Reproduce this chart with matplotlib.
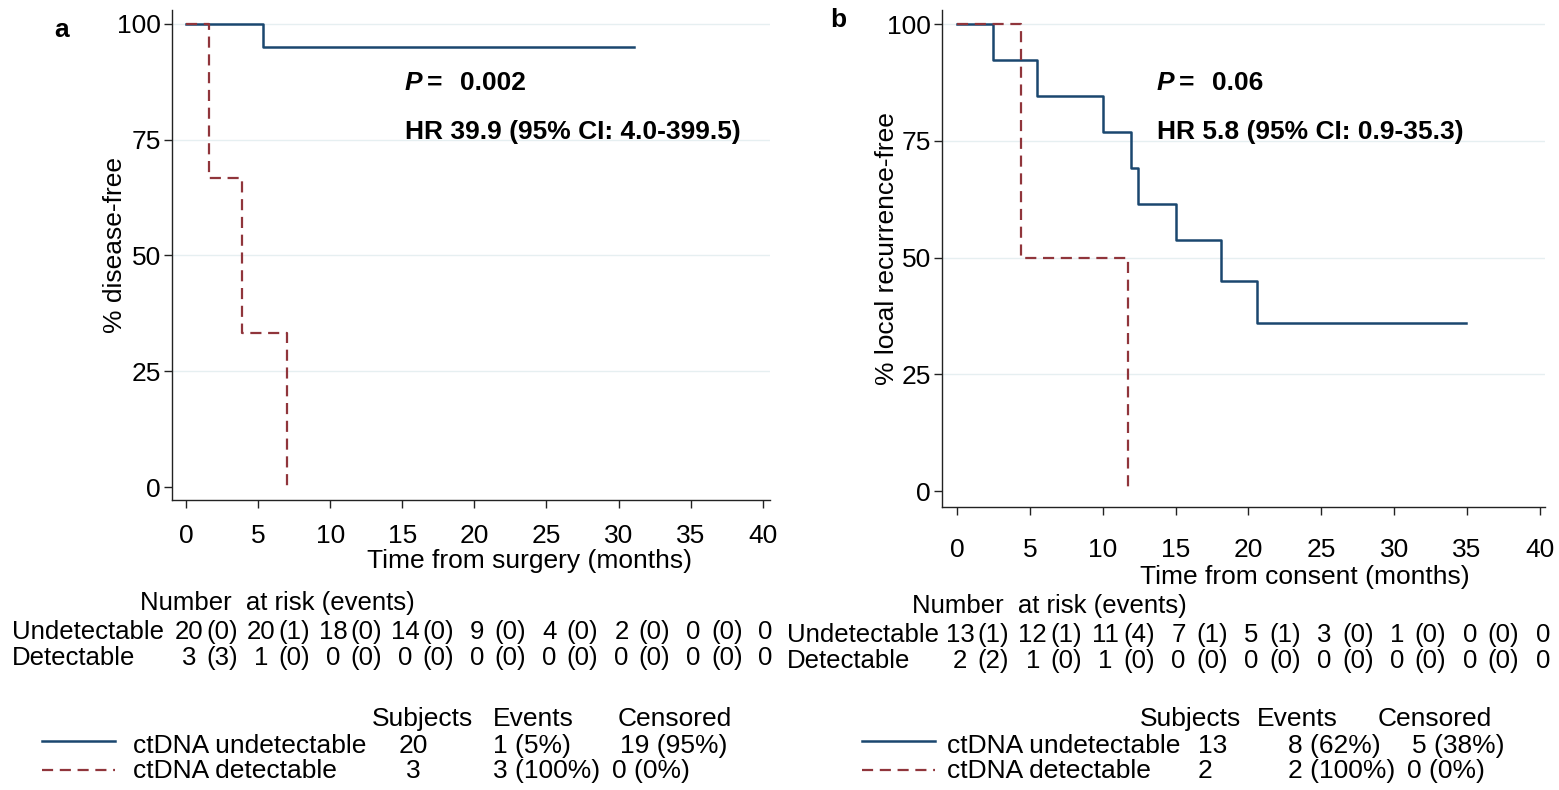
import numpy as np
import matplotlib
matplotlib.use("Agg")
import matplotlib.pyplot as plt
from matplotlib.lines import Line2D
from matplotlib import transforms

plt.rcParams['font.family'] = ['Liberation Sans', 'DejaVu Sans']
plt.rcParams['font.size'] = 19

W, H = 1559, 790

# Kaplan-Meier step data (months, % event-free)
a_undet_t = [0, 5.35, 31.1]
a_undet_s = [100, 95.0, 95.0]
a_det_t = [0, 1.6, 3.85, 7.0]
a_det_s = [100, 66.7, 33.3, 0]

b_undet_t = [0, 2.5, 5.5, 10.0, 11.95, 12.45, 15.0, 18.1, 20.6, 34.9]
b_undet_s = [100, 92.3, 84.6, 76.9, 69.2, 61.5, 53.8, 44.9, 35.9, 35.9]
b_det_t = [0, 4.4, 11.75]
b_det_s = [100, 50, 0]

# number at risk table
risk_times = [0, 5, 10, 15, 20, 25, 30, 35, 40]
a_risk_undet = [20, 20, 18, 14, 9, 4, 2, 0, 0]
a_ev_undet = [0, 1, 0, 0, 0, 0, 0, 0]
a_risk_det = [3, 1, 0, 0, 0, 0, 0, 0, 0]
a_ev_det = [3, 0, 0, 0, 0, 0, 0, 0]

b_risk_undet = [13, 12, 11, 7, 5, 3, 1, 0, 0]
b_ev_undet = [1, 1, 4, 1, 1, 0, 0, 0]
b_risk_det = [2, 1, 1, 0, 0, 0, 0, 0, 0]
b_ev_det = [2, 0, 0, 0, 0, 0, 0, 0]

# summary table
groups = ['ctDNA undetectable', 'ctDNA detectable']
a_subjects = ['20', '3']
a_events = ['1 (5%)', '3 (100%)']
a_censored = ['19 (95%)', '0 (0%)']
b_subjects = ['13', '2']
b_events = ['8 (62%)', '2 (100%)']
b_censored = ['5 (38%)', '0 (0%)']

BLUE = '#1A476F'
RED = '#90353B'
GRID = '#E6EFF1'
TABLE_FS = 18.5


def fx(px):
    return px / W


def fy(py):
    return 1 - py / H


fig = plt.figure(figsize=(W / 100, H / 100), dpi=100)
ax_a = fig.add_axes([fx(172), fy(500), fx(770) - fx(172), fy(10) - fy(500)])
ax_b = fig.add_axes([fx(942), fy(507), fx(1545) - fx(942), fy(10) - fy(507)])


def style_axes(ax, xlim, ylim, xpad):
    ax.set_xlim(*xlim)
    ax.set_ylim(*ylim)
    for s in ['top', 'right']:
        ax.spines[s].set_visible(False)
    for s in ['left', 'bottom']:
        ax.spines[s].set_linewidth(1.0)
        ax.spines[s].set_color('#222222')
    ax.set_xticks(risk_times)
    ax.set_yticks([0, 25, 50, 75, 100])
    ax.tick_params(axis='both', direction='out', length=6, width=1, color='#222222')
    ax.tick_params(axis='x', pad=xpad)
    ax.tick_params(axis='y', pad=2)
    for yv in [25, 50, 75, 100]:
        ax.axhline(yv, color=GRID, lw=1.0, zorder=0)


style_axes(ax_a, (-0.97, 40.5), (-2.8, 103), 11)
style_axes(ax_b, (-1.03, 40.35), (-3.4, 103), 16)

# curves
for ax, ut, us, dt, ds in [(ax_a, a_undet_t, a_undet_s, a_det_t, a_det_s),
                           (ax_b, b_undet_t, b_undet_s, b_det_t, b_det_s)]:
    ax.step(ut, us, where='post', color=BLUE, lw=1.8, zorder=3)
    ax.step(dt, ds, where='post', color=RED, lw=1.6, dashes=(5, 3), zorder=4)

ax_a.set_xlabel('Time from surgery (months)')
ax_a.xaxis.set_label_coords(0.597, -0.099)
ax_a.set_ylabel('% disease-free')
ax_a.yaxis.set_label_coords(-0.075, 0.52)

ax_b.set_xlabel('Time from consent (months)')
ax_b.xaxis.set_label_coords(0.602, -0.116)
ax_b.set_ylabel('% local recurrence-free')
ax_b.yaxis.set_label_coords(-0.072, 0.52)

# panel letters
fig.text(fx(62), fy(30), 'a', fontweight='bold', ha='center', va='center')
fig.text(fx(838), fy(20), 'b', fontweight='bold', ha='center', va='center')

# P value and hazard ratio
for x0, pval, hr in [(405, '0.002', 'HR 39.9 (95% CI: 4.0-399.5)'),
                     (1157, '0.06', 'HR 5.8 (95% CI: 0.9-35.3)')]:
    fig.text(fx(x0), fy(83), 'P', fontweight='bold', fontstyle='italic', va='center')
    fig.text(fx(x0 + 22), fy(83), '=', fontweight='bold', va='center')
    fig.text(fx(x0 + 55), fy(83), pval, fontweight='bold', va='center')
    fig.text(fx(x0), fy(132), hr, fontweight='bold', va='center')


def risk_table(ax, title_x, label_x, y0, undet, ev_undet, det, ev_det):
    tr = transforms.blended_transform_factory(ax.transData, fig.transFigure)
    fig.text(fx(title_x), fy(y0), 'Number  at risk (events)', va='center', fontsize=TABLE_FS)
    rows = [('Undetectable', undet, ev_undet, y0 + 29),
            ('Detectable', det, ev_det, y0 + 55)]
    for name, nums, evs, yy in rows:
        fig.text(fx(label_x), fy(yy), name, va='center', fontsize=TABLE_FS)
        for t, n in zip(risk_times, nums):
            ax.text(t + 0.2, fy(yy), str(n), transform=tr, ha='center', va='center',
                    fontsize=TABLE_FS)
        for i, e in enumerate(evs):
            tm = (risk_times[i] + risk_times[i + 1]) / 2
            ax.text(tm, fy(yy), '(%d)' % e, transform=tr, ha='center', va='center',
                    fontsize=TABLE_FS)


risk_table(ax_a, 140, 12, 603, a_risk_undet, a_ev_undet, a_risk_det, a_ev_det)
risk_table(ax_b, 912, 787, 606, b_risk_undet, b_ev_undet, b_risk_det, b_ev_det)


def summary(line_x, name_x, subj_x, subj_ha, ev_x, cens_x, hdr_x, subjects, events, censored):
    fig.text(fx(hdr_x[0]), fy(719), 'Subjects', va='center')
    fig.text(fx(hdr_x[1]), fy(719), 'Events', va='center')
    fig.text(fx(hdr_x[2]), fy(719), 'Censored', va='center')
    styles = [dict(color=BLUE, lw=1.8), dict(color=RED, lw=1.6, dashes=(5, 3))]
    line_y = [741, 770]
    text_y = [746, 771]
    for i in range(2):
        fig.add_artist(Line2D([fx(line_x), fx(line_x + 73)], [fy(line_y[i])] * 2,
                              transform=fig.transFigure, **styles[i]))
        fig.text(fx(name_x), fy(text_y[i]), groups[i], va='center')
        fig.text(fx(subj_x), fy(text_y[i]), subjects[i], va='center', ha=subj_ha)
        fig.text(fx(ev_x), fy(text_y[i]), events[i], va='center')
        fig.text(fx(cens_x[i]), fy(text_y[i]), censored[i], va='center')


summary(42, 133, 413, 'center', 493, [620, 612], [372, 493, 618],
        a_subjects, a_events, a_censored)
summary(862, 947, 1198, 'left', 1288, [1412, 1407], [1140, 1257, 1378],
        b_subjects, b_events, b_censored)

fig.savefig('out.png', dpi=100, facecolor='white')
